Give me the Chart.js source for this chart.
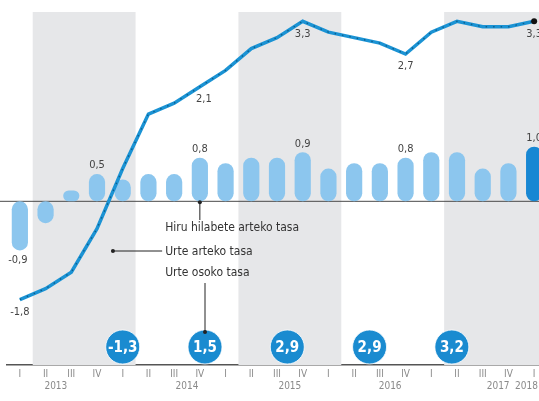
<!DOCTYPE html>
<html>
<head>
<meta charset="utf-8">
<script src="https://cdn.jsdelivr.net/npm/chart.js@4.4.1/dist/chart.umd.min.js"></script>
<style>
  html, body { margin: 0; padding: 0; background: #fff; overflow: hidden; }
  #wrap { position: relative; width: 548px; height: 401px; }
</style>
</head>
<body>
<div id="wrap"><canvas id="chartBPG"></canvas></div>
<script>
// Quarter labels (2013 I ... 2018 I as printed)
const quarters = ["I", "II", "III", "IV", "I", "II", "III", "IV", "I", "II", "III", "IV",
                  "I", "II", "III", "IV", "I", "II", "III", "IV", "I"];

// Hiru hilabete arteko tasa (bars)
const quarterRate = [-0.9, -0.4, 0.2, 0.5, 0.4, 0.5, 0.5, 0.8, 0.7, 0.8, 0.8,
                     0.9, 0.6, 0.7, 0.7, 0.8, 0.9, 0.9, 0.6, 0.7, 1.0];

// Urte arteko tasa (line)
const yearRate = [-1.8, -1.6, -1.3, -0.5, 0.6, 1.6, 1.8, 2.1, 2.4, 2.8, 3.0,
                  3.3, 3.1, 3.0, 2.9, 2.7, 3.1, 3.3, 3.2, 3.2, 3.3];

// Urte osoko tasa (circles), centred on each year's quarters
const annualRate = [-1.3, 1.5, 2.9, 2.9, 3.2];
const annualAt = [2.5, 6.5, 10.5, 14.5, 18.5];

// Year tick labels under the quarters
const yearNames = ["2013", "2014", "2015", "2016", "2017", "2018"];
const yearAt = [1.4, 6.5, 10.5, 14.4, 18.6, 19.7];

// Which values get a printed label
const barLabelIdx = [0, 3, 7, 11, 15, 20];
const lineLabelIdx = [0, 7, 11, 15, 20];

// Shaded years (category index ranges)
const shadedFrom = [0.5, 8.5, 16.5];
const shadedTo = [4.5, 12.5, 21];

const FONT = "'Liberation Sans Narrow', 'DejaVu Sans Condensed', 'Roboto', sans-serif";
const circleLevel = -2.67;
const fmt = v => v.toFixed(1).replace(".", ",");

const barColors = quarterRate.map((v, i) => i === quarterRate.length - 1 ? "#1787d3" : "#8cc6ee");

const decorations = {
  id: "decorations",
  beforeDatasetsDraw(chart) {
    const { ctx, chartArea, scales: { x, y } } = chart;
    ctx.save();
    // grey year bands
    ctx.fillStyle = "#e6e7e9";
    for (let i = 0; i < shadedFrom.length; i++) {
      const x1 = x.getPixelForValue(shadedFrom[i]);
      const x2 = Math.min(x.getPixelForValue(shadedTo[i]), chart.width);
      ctx.fillRect(x1, chartArea.top, x2 - x1, chartArea.bottom - chartArea.top);
    }
    // zero line
    ctx.strokeStyle = "#4a4a4a";
    ctx.lineWidth = 1;
    ctx.beginPath();
    ctx.moveTo(0, y.getPixelForValue(0));
    ctx.lineTo(chart.width, y.getPixelForValue(0));
    ctx.stroke();
    ctx.restore();
  },
  afterDatasetsDraw(chart) {
    const { ctx, scales: { x, y } } = chart;
    ctx.save();
    ctx.font = "11px " + FONT;
    ctx.fillStyle = "#444";
    ctx.textAlign = "center";

    // bar value labels
    const barMeta = chart.getDatasetMeta(0);
    barLabelIdx.forEach(i => {
      const el = barMeta.data[i];
      const v = quarterRate[i];
      if (v < 0) {
        ctx.textBaseline = "top";
        ctx.fillText(fmt(v), el.x - 2, el.y + 4);
      } else {
        ctx.textBaseline = "bottom";
        ctx.fillText(fmt(v), el.x, el.y - 3);
      }
    });

    // line value labels
    const lineMeta = chart.getDatasetMeta(1);
    ctx.textBaseline = "top";
    lineLabelIdx.forEach(i => {
      const el = lineMeta.data[i];
      ctx.fillText(fmt(yearRate[i]), el.x + (i === 7 ? 4 : 0), el.y + 7);
    });

    // black dot at last point
    const last = lineMeta.data[lineMeta.data.length - 1];
    ctx.fillStyle = "#111";
    ctx.beginPath();
    ctx.arc(last.x, last.y, 3, 0, Math.PI * 2);
    ctx.fill();

    // circle texts
    const circMeta = chart.getDatasetMeta(3);
    ctx.font = "bold 15px " + FONT;
    ctx.fillStyle = "#fff";
    ctx.textBaseline = "middle";
    circMeta.data.forEach((el, i) => {
      ctx.fillText(fmt(annualRate[i]), el.x, el.y + 1);
    });

    // call-outs
    const tx = x.getPixelForValue(5.65);
    ctx.font = "12px " + FONT;
    ctx.fillStyle = "#333";
    ctx.textAlign = "left";
    ctx.textBaseline = "middle";
    ctx.fillText("Hiru hilabete arteko tasa", tx, 228);
    ctx.fillText("Urte arteko tasa", tx, 252);
    ctx.fillText("Urte osoko tasa", tx, 273);

    ctx.strokeStyle = "#222";
    ctx.fillStyle = "#222";
    ctx.lineWidth = 1;
    // quarterly pointer
    const qx = x.getPixelForValue(7), qy = y.getPixelForValue(0);
    ctx.beginPath(); ctx.moveTo(qx, qy); ctx.lineTo(qx, 220); ctx.stroke();
    ctx.beginPath(); ctx.arc(qx, qy + 1, 2, 0, Math.PI * 2); ctx.fill();
    // year-on-year pointer
    const lx = x.getPixelForValue(3.62);
    ctx.beginPath(); ctx.moveTo(lx, 251); ctx.lineTo(tx - 3, 251); ctx.stroke();
    ctx.beginPath(); ctx.arc(lx, 251, 2, 0, Math.PI * 2); ctx.fill();
    // annual pointer
    const c1 = circMeta.data[1];
    ctx.beginPath(); ctx.moveTo(c1.x, 283); ctx.lineTo(c1.x, c1.y - 15); ctx.stroke();
    ctx.beginPath(); ctx.arc(c1.x, c1.y - 15, 2, 0, Math.PI * 2); ctx.fill();

    ctx.restore();
  },
  afterDraw(chart) {
    const { ctx, chartArea, scales: { x } } = chart;
    ctx.save();
    ctx.font = "10px " + FONT;
    ctx.fillStyle = "#8a8a8a";
    ctx.textAlign = "center";
    ctx.textBaseline = "middle";
    yearNames.forEach((name, i) => {
      ctx.fillText(name, x.getPixelForValue(yearAt[i]), chartArea.bottom + 21);
    });
    ctx.restore();
  }
};

new Chart(document.getElementById("chartBPG"), {
  type: "bar",
  data: {
    labels: quarters,
    datasets: [
      {
        label: "Hiru hilabete arteko tasa",
        data: quarterRate,
        backgroundColor: barColors,
        borderRadius: 8,
        borderSkipped: false,
        grouped: false,
        barPercentage: 0.63,
        categoryPercentage: 1,
        order: 4
      },
      {
        type: "line",
        label: "Urte arteko tasa",
        data: yearRate,
        borderColor: "#1b93d4",
        borderWidth: 3.5,
        pointRadius: 0,
        tension: 0,
        order: 3
      },
      {
        type: "line",
        label: "dots",
        data: yearRate,
        borderColor: "#0d5f8f",
        borderWidth: 1.4,
        borderDash: [1.5, 6],
        pointRadius: 0,
        tension: 0,
        order: 2
      },
      {
        type: "scatter",
        label: "Urte osoko tasa",
        data: annualAt.map(p => ({ x: p, y: circleLevel })),
        xAxisID: "x2",
        pointRadius: 17,
        pointHoverRadius: 17,
        backgroundColor: "#1a8bd0",
        borderColor: "rgba(255,255,255,0.8)",
        borderWidth: 1,
        order: 1
      }
    ]
  },
  options: {
    responsive: true,
    maintainAspectRatio: false,
    animation: false,
    layout: { autoPadding: false, padding: { left: 7, right: 1, top: 12, bottom: 18 } },
    plugins: { legend: { display: false }, tooltip: { enabled: false } },
    scales: {
      x: {
        grid: { display: false, drawTicks: false },
        border: { display: true, color: "#555", width: 1.5 },
        ticks: {
          color: "#8a8a8a",
          font: { size: 10, family: FONT },
          padding: 3,
          autoSkip: false,
          maxRotation: 0
        }
      },
      x2: {
        type: "linear",
        display: false,
        min: -0.5,
        max: 20.5
      },
      y: {
        display: false,
        min: -3,
        max: 3.47
      }
    }
  },
  plugins: [decorations]
});
</script>
</body>
</html>
